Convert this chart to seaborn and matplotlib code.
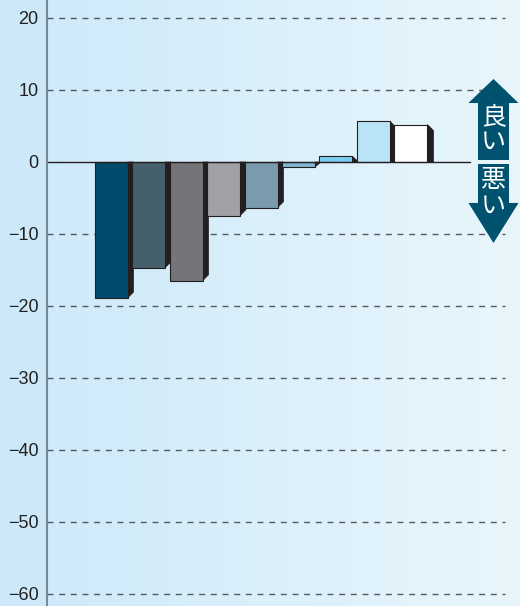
import numpy as np
import pandas as pd
import seaborn as sns
import matplotlib.pyplot as plt
from matplotlib.patches import Polygon
from matplotlib.colors import LinearSegmentedColormap

# values
groups = ["g1", "g2", "g3", "g4", "g5", "g6", "g7", "g8", "g9"]
values = [-18.9, -14.7, -16.5, -7.45, -6.35, -0.7, 0.8, 5.65, 5.2]
bar_colors = ["#004a6b", "#455f6b", "#747578", "#a0a1a4", "#7b9bac",
              "#80b4d0", "#7dcdf2", "#b9e4f8", "#ffffff"]
y_ticks = [20, 10, 0, -10, -20, -30, -40, -50, -60]
tick_labels = ["20", "10", "0", "−10", "−20", "−30", "−40", "−50", "−60"]
up_label = "良\nい"
down_label = "悪\nい"

df = pd.DataFrame({"group": groups, "value": values})

sns.set_theme(style="white")
plt.rcParams["font.family"] = ["Liberation Sans", "DejaVu Sans"]

fig = plt.figure(figsize=(5.2, 6.06), dpi=100, facecolor="#cde9f9")
ax = fig.add_axes([47 / 520, 0, 1 - 47 / 520, 1])

ylo, yhi = -61.67, 22.5
xlo, xhi = -1.707, 10.907

# background gradient
cmap = LinearSegmentedColormap.from_list("bg", ["#cfeafa", "#e8f6fc"])
grad = np.linspace(0, 1, 256).reshape(1, -1)
ax.imshow(grad, cmap=cmap, aspect="auto", extent=(xlo, xhi, ylo, yhi), zorder=0)

sns.barplot(data=df, x="group", y="value", hue="group", palette=bar_colors,
            legend=False, width=0.88, edgecolor="#231f20", linewidth=0.8,
            saturation=1, ax=ax, zorder=3)
ax.set_xlim(xlo, xhi)
ax.set_ylim(ylo, yhi)

# dark side faces
px_x = 1 / 37.44
px_y = 1 / 7.2
d = 6
for p in list(ax.patches):
    x1 = p.get_x() + p.get_width()
    y0 = p.get_y()
    y1 = p.get_y() + p.get_height()
    v = y1 if abs(y1) > abs(y0) else y0
    s = np.sign(v)
    shrink = min(d * px_y, abs(v))
    poly = Polygon([(x1, 0), (x1 + d * px_x, 0),
                    (x1 + d * px_x, v - s * shrink), (x1, v)],
                   closed=True, facecolor="#231f20", edgecolor="#231f20",
                   linewidth=0.5, zorder=2.5)
    ax.add_patch(poly)

# grid lines and zero line
grid_end = 10.507
for t in y_ticks:
    if t == 0:
        ax.plot([xlo, 9.573], [0, 0], color="#231f20", lw=1.0, zorder=4)
    else:
        ax.plot([xlo, grid_end], [t, t], color="#555a5e", lw=1.0,
                ls=(0, (4.3, 4.1)), zorder=1)

# good / bad arrow
cx = 10.2
hw = 25 * px_x
sw = 15.5 * px_x
arrow_col = "#00526e"
up = Polygon([(cx, 11.53), (cx + hw, 8.19), (cx + sw, 8.19), (cx + sw, 0.28),
              (cx - sw, 0.28), (cx - sw, 8.19), (cx - hw, 8.19)],
             closed=True, facecolor=arrow_col, edgecolor="none", zorder=5)
down = Polygon([(cx, -11.25), (cx + hw, -5.69), (cx + sw, -5.69), (cx + sw, -0.28),
                (cx - sw, -0.28), (cx - sw, -5.69), (cx - hw, -5.69)],
               closed=True, facecolor=arrow_col, edgecolor="none", zorder=5)
ax.add_patch(up)
ax.add_patch(down)
cjk = ["Noto Sans CJK JP", "DejaVu Sans"]
ax.text(cx, 4.5, up_label, ha="center", va="center", color="white",
        fontsize=18, family=cjk, linespacing=0.95, zorder=6)
ax.text(cx, -4.3, down_label, ha="center", va="center", color="white",
        fontsize=18, family=cjk, linespacing=0.95, zorder=6)

# axes styling
ax.set_yticks(y_ticks)
ax.set_yticklabels(tick_labels)
ax.tick_params(axis="y", length=0, pad=6, labelsize=13, colors="#231f20")
ax.set_xticks([])
ax.set_xlabel("")
ax.set_ylabel("")
for side in ["top", "right", "bottom"]:
    ax.spines[side].set_visible(False)
ax.spines["left"].set_color("#7a8a95")
ax.spines["left"].set_linewidth(1.5)
ax.spines["left"].set_zorder(7)

fig.savefig("out.png", dpi=100, facecolor=fig.get_facecolor())
